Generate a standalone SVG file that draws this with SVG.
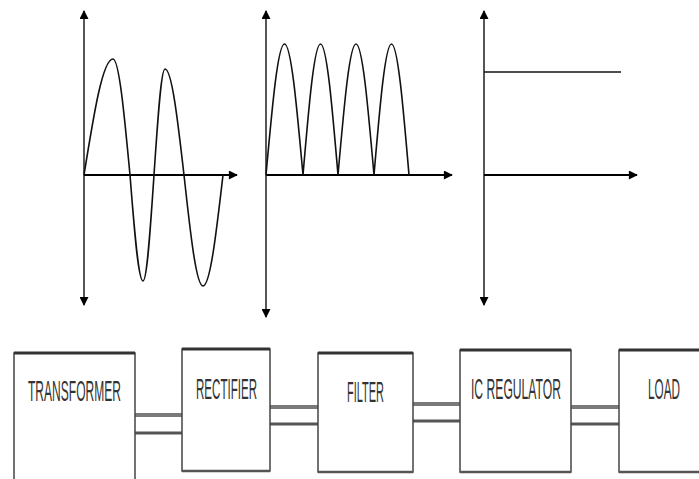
<svg xmlns="http://www.w3.org/2000/svg" width="699" height="479" viewBox="0 0 699 479">
<defs>
<style>
.axv{stroke:#444;stroke-width:1.8;fill:none}
.axh{stroke:#000;stroke-width:1.8;fill:none}
.wave{stroke:#111;stroke-width:1.6;fill:none}
.box{fill:#fff;stroke:#444;stroke-width:1.5}
.edge{stroke:#333;stroke-width:3}
.edgeb{stroke:#555;stroke-width:2.5}
.lbl{font-family:"Liberation Sans",Arial,sans-serif;font-size:29px;fill:#333}
.c1{stroke:#7a7a7a;stroke-width:4;fill:none}
.c2{stroke:#555;stroke-width:3;fill:none}
</style>
<marker id="ah" viewBox="0 0 10 10" refX="9" refY="5" markerWidth="10" markerHeight="9" markerUnits="userSpaceOnUse" orient="auto">
<path d="M0,0 L10,5 L0,10 Z" fill="#000"/>
</marker>
</defs>
<rect width="699" height="479" fill="#fff"/>

<g id="graph-ac">
<line class="axv" x1="84" y1="175" x2="84" y2="11" marker-end="url(#ah)"/>
<line class="axv" x1="84" y1="175" x2="84" y2="305" marker-end="url(#ah)"/>
<line class="axh" x1="84" y1="175" x2="237" y2="175" marker-end="url(#ah)"/>
<path class="wave" d="M84,175 C93.7,114.7 102.6,59 113,59 C119.1,59 124.3,114.7 130,175 C134.3,230.1 138.3,281 143,281 C147,281 150.3,230.1 154,175 C157.7,119.9 161,69 165,69 C171.8,69 177.7,119.9 184,175 C190.3,232.7 196.2,286 203,286 C210.2,286 216.3,232.7 223,175"/>
</g>

<g id="graph-rectified">
<line class="axv" x1="266" y1="175" x2="266" y2="11" marker-end="url(#ah)"/>
<line class="axv" x1="266" y1="175" x2="266" y2="317" marker-end="url(#ah)"/>
<line class="axh" x1="266" y1="175" x2="452" y2="175" marker-end="url(#ah)"/>
<path class="wave" d="M266,175 C272.2,106.9 277.8,44 284.5,44 C291.2,44 296.8,106.9 303,175 C308.8,106.9 314.2,44 320.5,44 C326.8,44 332.2,106.9 338,175 C344,106.9 349.5,44 356,44 C362.5,44 368,106.9 374,175 C379.8,106.9 385.2,44 391.5,44 C397.8,44 403.2,106.9 409,175"/>
</g>

<g id="graph-dc">
<line class="axv" x1="484" y1="175" x2="484" y2="11" marker-end="url(#ah)"/>
<line class="axv" x1="484" y1="175" x2="484" y2="305" marker-end="url(#ah)"/>
<line class="axh" x1="484" y1="175" x2="637" y2="175" marker-end="url(#ah)"/>
<line class="wave" x1="484" y1="72" x2="621" y2="72"/>
</g>

<g id="connectors">
<line class="c1" x1="135" y1="415" x2="182" y2="415"/>
<line class="c2" x1="135" y1="433" x2="182" y2="433"/>
<line class="c1" x1="270" y1="407" x2="318" y2="407"/>
<line class="c2" x1="270" y1="424" x2="318" y2="424"/>
<line class="c1" x1="413" y1="404" x2="460" y2="404"/>
<line class="c2" x1="413" y1="421" x2="460" y2="421"/>
<line class="c1" x1="571" y1="407" x2="619" y2="407"/>
<line class="c2" x1="571" y1="424" x2="619" y2="424"/>
</g>

<g id="transformer">
<rect class="box" x="14" y="353" width="121" height="130"/>
<line class="edge" x1="14" y1="353" x2="135" y2="353"/>
<text class="lbl" transform="translate(28,401) scale(0.41,1)" textLength="226.8" lengthAdjust="spacingAndGlyphs">TRANSFORMER</text>
</g>

<g id="rectifier">
<rect class="box" x="182" y="349" width="88" height="122"/>
<line class="edge" x1="182" y1="349" x2="270" y2="349"/>
<line class="edgeb" x1="182" y1="471" x2="270" y2="471"/>
<text class="lbl" transform="translate(196,399) scale(0.41,1)" textLength="148.8" lengthAdjust="spacingAndGlyphs">RECTIFIER</text>
</g>

<g id="filter">
<rect class="box" x="318" y="353" width="95" height="119"/>
<line class="edge" x1="318" y1="353" x2="413" y2="353"/>
<line class="edgeb" x1="318" y1="472" x2="413" y2="472"/>
<text class="lbl" transform="translate(347,402) scale(0.41,1)" textLength="90.2" lengthAdjust="spacingAndGlyphs">FILTER</text>
</g>

<g id="ic-regulator">
<rect class="box" x="460" y="350" width="111" height="122"/>
<line class="edge" x1="460" y1="350" x2="571" y2="350"/>
<line class="edgeb" x1="460" y1="472" x2="571" y2="472"/>
<text class="lbl" transform="translate(471,399) scale(0.41,1)" textLength="219.5" lengthAdjust="spacingAndGlyphs">IC REGULATOR</text>
</g>

<g id="load">
<rect class="box" x="619" y="350" width="90" height="122"/>
<line class="edge" x1="619" y1="350" x2="699" y2="350"/>
<line class="edgeb" x1="619" y1="472" x2="699" y2="472"/>
<text class="lbl" transform="translate(648,399) scale(0.41,1)" textLength="78" lengthAdjust="spacingAndGlyphs">LOAD</text>
</g>
</svg>
